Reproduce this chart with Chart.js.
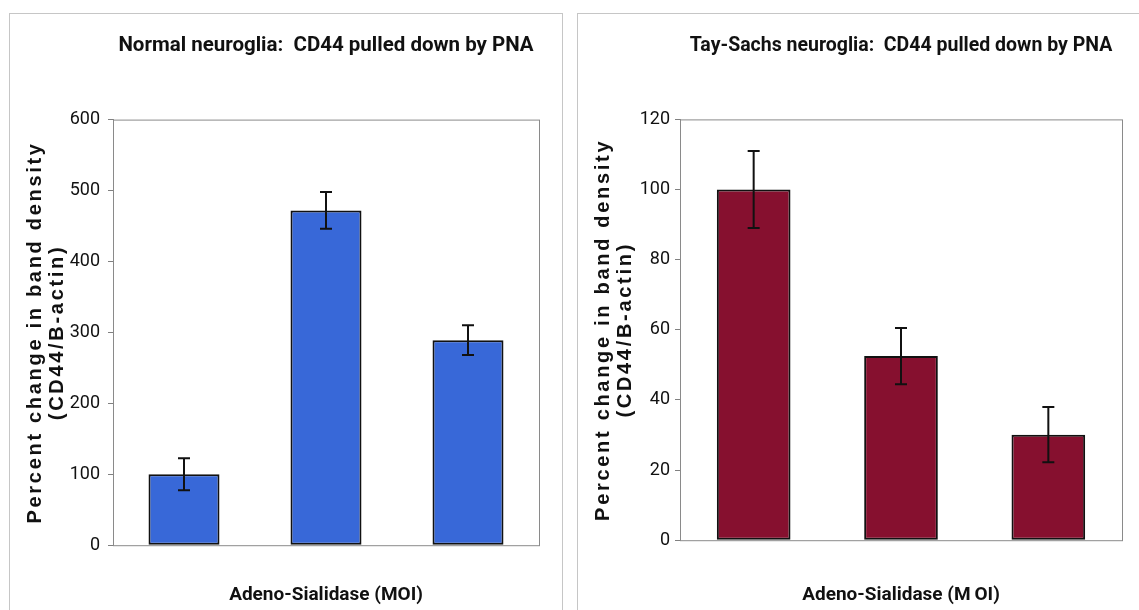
<!DOCTYPE html>
<html lang="en">
<head>
<meta charset="UTF-8">
<title>CD44 pulled down by PNA</title>
<script src="https://cdn.jsdelivr.net/npm/chart.js"></script>
<style>
  body { margin: 0; background: #fff; width: 1139px; height: 610px; overflow: hidden; position: relative; }
  .panel { position: absolute; top: 13px; height: 640px; border: 1px solid #c6c6c6; background: #fff; }
  #leftPanel { left: 9px; width: 552px; }
  #rightPanel { left: 577px; width: 620px; }
  canvas { position: absolute; left: 0; top: 0; }
</style>
</head>
<body>
<div class="panel" id="leftPanel"><canvas id="normalChart" width="552" height="596"></canvas></div>
<div class="panel" id="rightPanel"><canvas id="taySachsChart" width="561" height="596"></canvas></div>

<script>
// three MOI groups, unlabeled on the axis
const doseGroups = ['', '', ''];

const normalValues = [100, 472, 289];
const normalErrors = [22.5, 26, 21];

const taySachsValues = [100, 52.5, 30.1];
const taySachsErrors = [11, 8, 7.9];

const normalTicks = { max: 600, step: 100 };
const taySachsTicks = { max: 120, step: 20 };

const NARROW = '"Liberation Sans Narrow", "Arial Narrow", Roboto, sans-serif';
const SPACED = '"Liberation Sans", Arial, sans-serif';

// grey frame round the plot area
const plotFrame = {
  id: 'plotFrame',
  beforeDatasetsDraw(chart) {
    const { ctx, chartArea: a } = chart;
    ctx.save();
    ctx.strokeStyle = '#8a8a8a';
    ctx.lineWidth = 1;
    ctx.strokeRect(a.left + 0.5, a.top + 0.5, a.right - a.left, a.bottom - a.top);
    ctx.restore();
  }
};

// the y title is letter-spaced; chart.js fonts have no option for it
const spacedTitle = {
  id: 'spacedTitle',
  beforeDraw(chart, args, opts) {
    const s = chart.scales.y;
    if (s._spaced) return;
    const draw = s.drawTitle;
    s.drawTitle = function () {
      this.ctx.save();
      this.ctx.letterSpacing = opts.spacing;
      draw.call(this);
      this.ctx.restore();
    };
    s._spaced = true;
  }
};

// +/- error whiskers drawn through the y scale
const errorBars = {
  id: 'errorBars',
  afterDatasetsDraw(chart, args, opts) {
    const { ctx } = chart;
    const y = chart.scales.y;
    const values = chart.data.datasets[0].data;
    ctx.save();
    ctx.strokeStyle = '#111';
    ctx.lineWidth = 2;
    chart.getDatasetMeta(0).data.forEach((bar, i) => {
      const hi = y.getPixelForValue(values[i] + opts.errors[i]);
      const lo = y.getPixelForValue(values[i] - opts.errors[i]);
      ctx.beginPath();
      ctx.moveTo(bar.x, hi); ctx.lineTo(bar.x, lo);
      ctx.moveTo(bar.x - 6, hi); ctx.lineTo(bar.x + 6, hi);
      ctx.moveTo(bar.x - 6, lo); ctx.lineTo(bar.x + 6, lo);
      ctx.stroke();
    });
    ctx.restore();
  }
};

function makeChart(id, o) {
  return new Chart(document.getElementById(id), {
    type: 'bar',
    data: {
      labels: doseGroups,
      datasets: [{
        data: o.values,
        backgroundColor: o.color,
        borderColor: '#111',
        borderWidth: 2,
        borderSkipped: false,
        barPercentage: 0.5,
        categoryPercentage: 1
      }]
    },
    options: {
      responsive: false,
      animation: false,
      layout: { padding: { left: 0, right: o.padRight, top: 0, bottom: 0 } },
      plugins: {
        legend: { display: false },
        tooltip: { enabled: false },
        errorBars: { errors: o.errors },
        spacedTitle: { spacing: '2.7px' },
        title: {
          display: true,
          text: o.title,
          fullSize: false,
          color: '#111',
          font: { family: NARROW, size: o.titleSize, weight: 'bold', lineHeight: 1.2 },
          padding: { top: 20, bottom: o.titleGap }
        }
      },
      scales: {
        x: {
          ticks: { display: false },
          grid: { display: false, drawTicks: false },
          border: { display: false },
          title: {
            display: true,
            text: o.xTitle,
            color: '#111',
            font: { family: NARROW, size: 19, weight: 'bold', lineHeight: 1.2 },
            padding: { top: o.xTitleTop, bottom: 3 }
          }
        },
        y: {
          min: 0,
          max: o.ticks.max,
          afterFit: (scale) => { scale.width = o.axisWidth; },
          ticks: {
            stepSize: o.ticks.step,
            padding: o.tickPad,
            color: '#111',
            font: { family: NARROW, size: 18 }
          },
          grid: { drawOnChartArea: false, drawTicks: true, tickLength: 5, color: '#808080' },
          border: { color: '#8a8a8a' },
          title: {
            display: true,
            text: ['Percent change in band density', '(CD44/B-actin)'],
            color: '#111',
            font: { family: SPACED, size: 20, weight: 'bold', lineHeight: 1.1 },
            padding: { top: 14, bottom: 0 }
          }
        }
      }
    },
    plugins: [plotFrame, spacedTitle, errorBars]
  });
}

makeChart('normalChart', {
  values: normalValues,
  errors: normalErrors,
  ticks: normalTicks,
  color: '#3868d8',
  title: 'Normal neuroglia:  CD44 pulled down by PNA',
  titleSize: 20.5,
  xTitle: 'Adeno-Sialidase (MOI)',
  padRight: 23,
  titleGap: 61,
  xTitleTop: 39,
  axisWidth: 103,
  tickPad: 8
});

makeChart('taySachsChart', {
  values: taySachsValues,
  errors: taySachsErrors,
  ticks: taySachsTicks,
  color: '#86102f',
  title: 'Tay-Sachs neuroglia:  CD44 pulled down by PNA',
  titleSize: 19.5,
  xTitle: 'Adeno-Sialidase (M\u2009OI)',
  padRight: 17,
  titleGap: 62,
  xTitleTop: 44,
  axisWidth: 102,
  tickPad: 5
});
</script>
</body>
</html>
